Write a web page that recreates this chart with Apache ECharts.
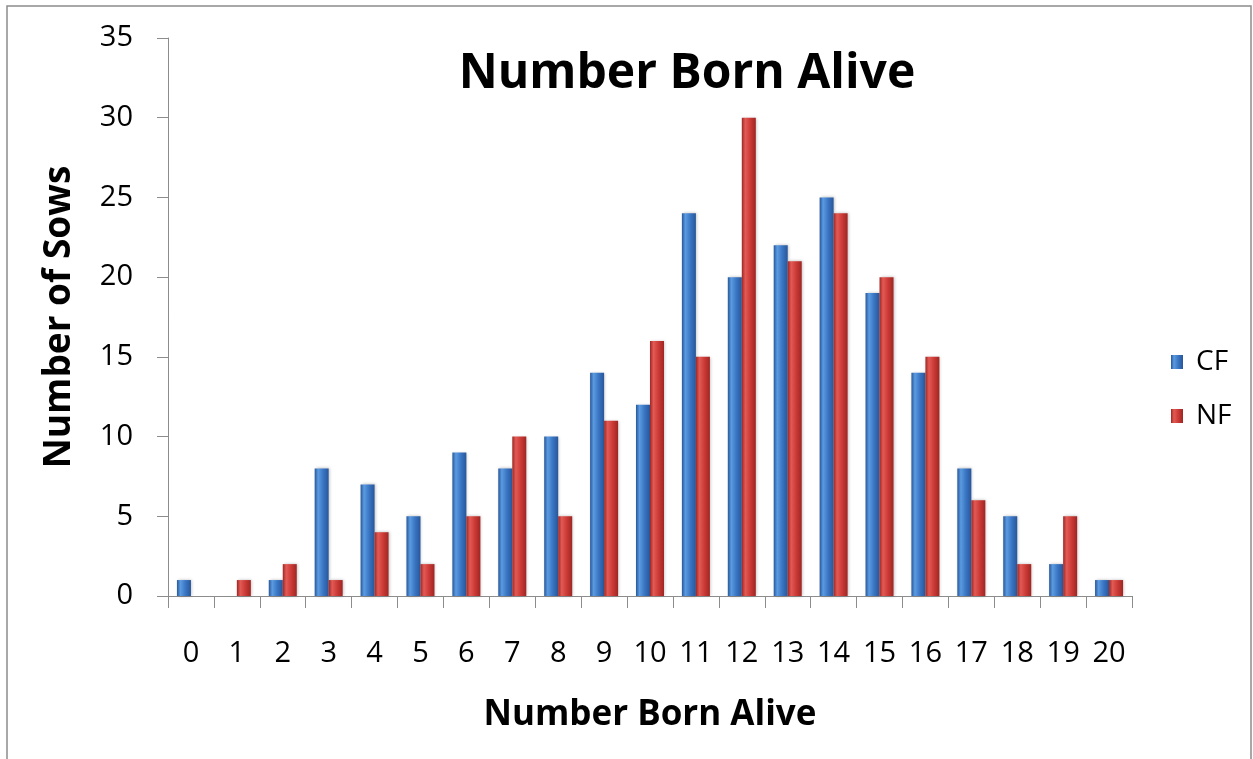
<!DOCTYPE html>
<html>
<head>
<meta charset="utf-8">
<script src="https://cdn.jsdelivr.net/npm/echarts@6/dist/echarts.min.js"></script>
<style>
html,body{margin:0;padding:0;background:#fff;}
#c{width:1253px;height:759px;}
</style>
</head>
<body>
<div id="c"></div>
<script>
var categories = ['0','1','2','3','4','5','6','7','8','9','10','11','12','13','14','15','16','17','18','19','20'];
var cfValues = [1,0,1,8,7,5,9,8,10,14,12,24,20,22,25,19,14,8,5,2,1];
var nfValues = [0,1,2,1,4,2,5,10,5,11,16,15,30,21,24,20,15,6,2,5,1];
var seriesNames = ['CF','NF'];
var yTicks = {min:0, max:35, interval:5};

var FONT = 'Open Sans';
function grad(light, mid, dark){
  return new echarts.graphic.LinearGradient(0,0,1,0,[
    {offset:0, color:dark},
    {offset:0.25, color:light},
    {offset:0.6, color:mid},
    {offset:1, color:dark}
  ]);
}
var blue = grad('#5b9be0','#3a76c4','#28569a');
var red = grad('#e25a55','#cc3a36','#9e2623');

var chart = echarts.init(document.getElementById('c'));
chart.setOption({
  backgroundColor:'#fff',
  animation:false,
  graphic:[{
    type:'rect', shape:{x:7,y:6,width:1244,height:800},
    style:{fill:'none',stroke:'#8c8c8c',lineWidth:1.5}, silent:true
  }],
  title:{
    text:'Number Born Alive',
    left:682, top:45, textAlign:'center',
    textStyle:{fontFamily:FONT,fontWeight:'bold',fontSize:48,color:'#000'}
  },
  legend:{
    orient:'vertical', left:1166, top:343,
    itemWidth:12, itemHeight:14, itemGap:26,
    icon:'rect',
    data:seriesNames,
    textStyle:{fontFamily:FONT,fontSize:28,color:'#000',padding:[0,0,0,8]}
  },
  grid:{left:168, right:121, top:38, bottom:163, containLabel:false},
  xAxis:{
    type:'category', data:categories,
    name:'Number Born Alive', nameLocation:'middle', nameGap:102,
    nameTextStyle:{fontFamily:FONT,fontWeight:'bold',fontSize:35,color:'#000'},
    axisLine:{lineStyle:{color:'#8c8c8c',width:1}},
    axisTick:{show:true,length:12,lineStyle:{color:'#8c8c8c'}},
    axisLabel:{fontFamily:FONT,fontSize:29,color:'#000',margin:43}
  },
  yAxis:{
    type:'value', min:yTicks.min, max:yTicks.max, interval:yTicks.interval,
    name:'Number of Sows', nameLocation:'middle', nameGap:90, nameRotate:90,
    nameTextStyle:{fontFamily:FONT,fontWeight:'bold',fontSize:37,color:'#000'},
    axisLine:{show:true,lineStyle:{color:'#8c8c8c',width:1}},
    axisTick:{show:true,length:11,lineStyle:{color:'#8c8c8c'}},
    splitLine:{show:false},
    axisLabel:{fontFamily:FONT,fontSize:29,color:'#000',margin:35}
  },
  series:[
    {name:seriesNames[0],type:'bar',data:cfValues,barGap:'0%',barCategoryGap:'39%',
     itemStyle:{color:blue,shadowColor:'rgba(0,0,0,0.25)',shadowBlur:3,shadowOffsetX:1}},
    {name:seriesNames[1],type:'bar',data:nfValues,barGap:'0%',barCategoryGap:'39%',
     itemStyle:{color:red,shadowColor:'rgba(0,0,0,0.25)',shadowBlur:3,shadowOffsetX:1}}
  ]
});
</script>
</body>
</html>
